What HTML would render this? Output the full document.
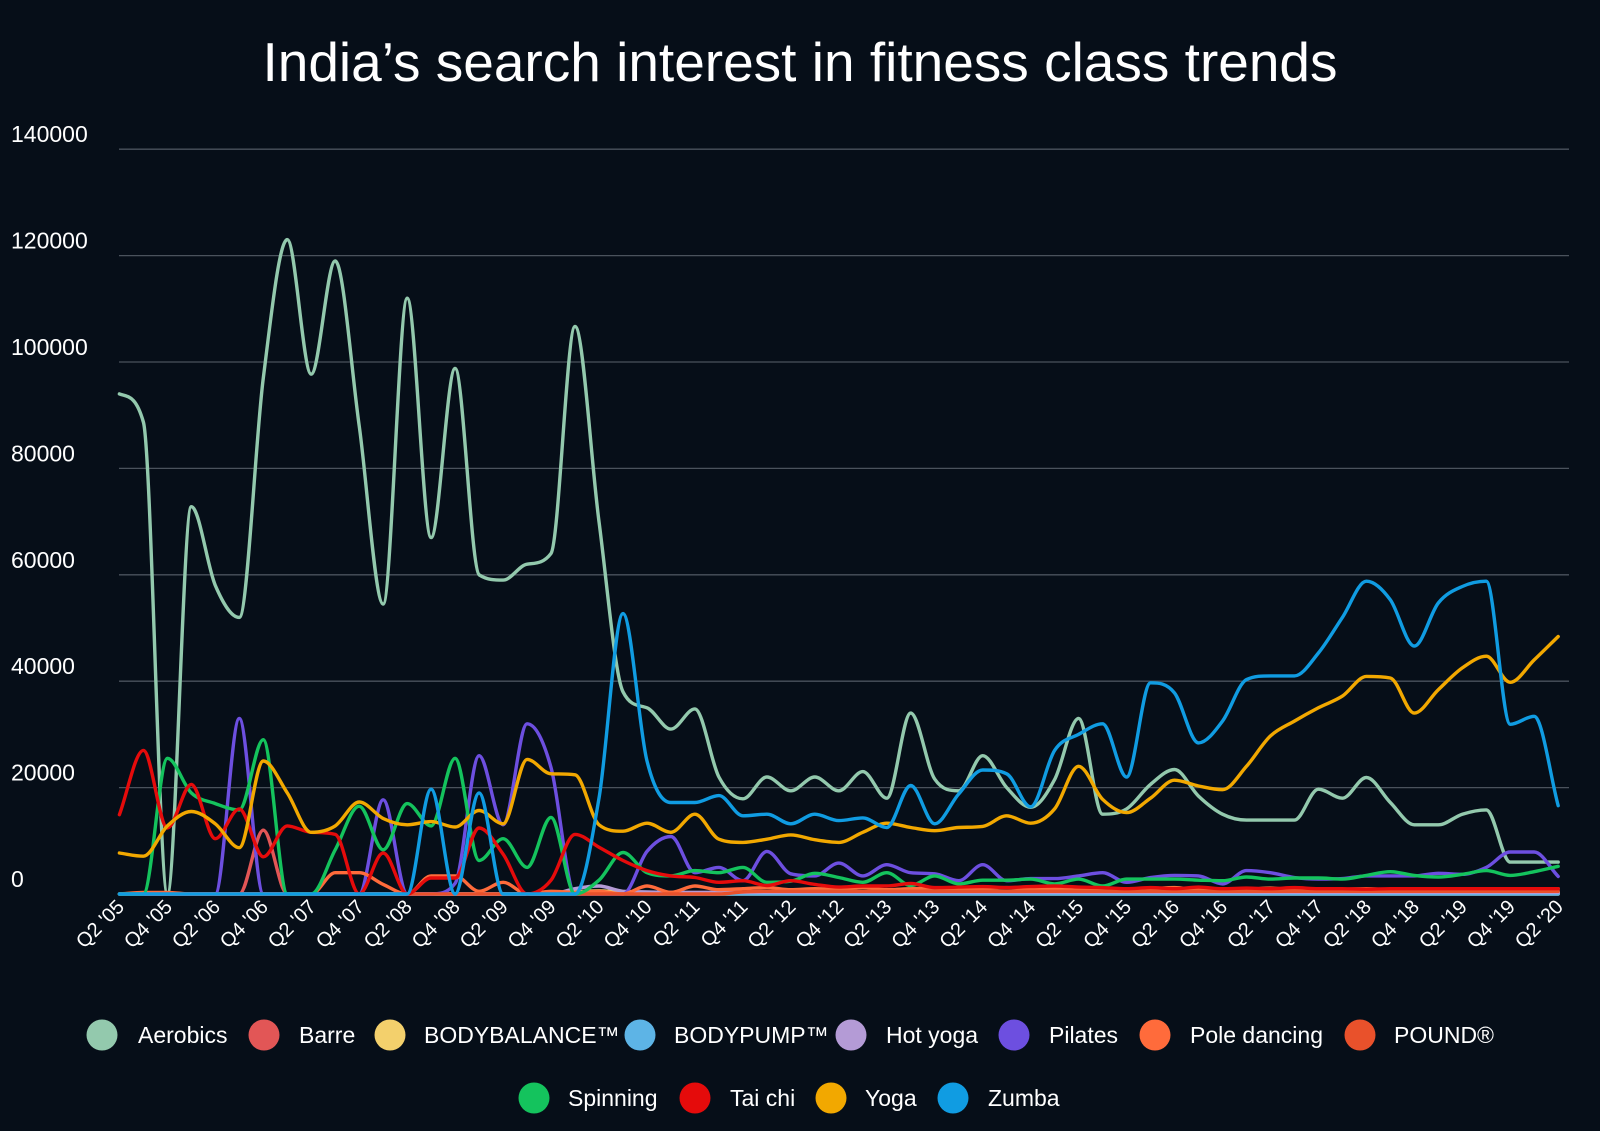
<!DOCTYPE html>
<html><head><meta charset="utf-8"><title>India's search interest in fitness class trends</title>
<style>
html,body{margin:0;padding:0;background:#060e18;}
svg{display:block;font-family:"Liberation Sans",Arial,sans-serif;}
</style></head>
<body>
<svg id="chart" width="1600" height="1131" viewBox="0 0 1600 1131" xmlns="http://www.w3.org/2000/svg">
<rect width="1600" height="1131" fill="#060e18"/>
<text x="800" y="81" text-anchor="middle" fill="#ffffff" font-size="55">India’s search interest in fitness class trends</text>
<defs><clipPath id="plotclip"><rect x="100" y="100" width="1480" height="796"/></clipPath></defs>
<g id="grid"></g>
<g id="yaxis"></g>
<g id="xaxis"></g>
<g id="series" clip-path="url(#plotclip)"></g>
<g id="legend"></g>
</svg>
<script>
const yTicks = [0,20000,40000,60000,80000,100000,120000,140000];
const xTickLabels = ["Q2 '05","Q4 '05","Q2 '06","Q4 '06","Q2 '07","Q4 '07","Q2 '08","Q4 '08","Q2 '09","Q4 '09","Q2 '10","Q4 '10","Q2 '11","Q4 '11","Q2 '12","Q4 '12","Q2 '13","Q4 '13","Q2 '14","Q4 '14","Q2 '15","Q4 '15","Q2 '16","Q4 '16","Q2 '17","Q4 '17","Q2 '18","Q4 '18","Q2 '19","Q4 '19","Q2 '20"];
const seriesNames = ["Aerobics","Barre","BODYBALANCE™","BODYPUMP™","Hot yoga","Pilates","Pole dancing","POUND®","Spinning","Tai chi","Yoga","Zumba"];
const seriesColors = ["#93c9ad","#e25656","#f3d06c","#5db4e6","#b49bd6","#6d4fe0","#ff6b3b","#e9512b","#14c35d","#e50b0b","#f2a800","#109ce2"];
// values in thousands, quarterly from Q2 '05 to Q2 '20
const aerobics = [94,88.7,0,72.8,58,52,97,123,97.7,119,88,54.5,112,67,98.8,60,59,62,64,106.7,70,38,35,31,34.8,22,17.9,22,19.4,22,19.4,23,18,34,21.6,19.4,26,20,16.3,21.5,33,15,16,20.6,23.4,18.4,15,13.9,13.9,13.9,19.7,18,21.9,17.2,13,13,15,15.8,6,6,6];
const barre = [0,0,0,0,0,0,12,0,0,0,0,0,0,0,0,0,0,0,0,0,0.3,0.3,0.3,0.3,0.3,0.3,0.3,0.3,0.3,0.3,0.3,0.3,0.3,0.3,0.3,0.3,0.3,0.3,0.3,0.3,0.3,0.3,0.3,0.3,0.3,0.3,0.3,0.3,0.3,0.3,0.3,0.3,0.3,0.3,0.3,0.3,0.3,0.3,0.3,0.3,0.3];
const bodybalance = [0,0,0,0,0,0,0,0,0,0,0,0,0,0,0,0,0,0,0,0.4,0.6,0.3,0,0,0,0,0,0,0,0,0,0,0,0,0,0,0,0,0,0,0,0,0,0,0,0,0,0,0,0,0,0,0,0,0,0,0,0,0,0,0];
const bodypump = [0,0,0,0,0,0,0,0,0,0,0,0,0,0,0,0,0,0,0,0,0,0,0,0,0,0,0,0,0,0,0,0,0,0,0,0,0,0,0,0,0,0,0,0,0,0,0,0,0,0,0,0,0,0,0,0,0,0,0,0,0];
const hotyoga = [0,0,0,0,0,0,0,0,0,0,0,0,0,0,0,0,0,0,0,1,1.5,0.5,0.4,0.3,0.3,0.3,0.3,0.3,0.3,0.3,0.3,0.3,0.3,0.3,0.3,0.3,0.3,0.3,0.3,0.3,0.3,0.3,0.3,0.3,0.3,0.3,0.3,0.3,0.3,0.3,0.3,0.3,0.3,0.3,0.3,0.3,0.3,0.3,0.3,0.3,0.3];
const pilates = [0,0,0,0,0,33,0,0,0,0,0,17.7,0,0,2,26,13,32,23.8,0,0,0,8,10.8,4,5,2.5,8,3.8,3.4,5.8,3.4,5.5,4,3.8,2.5,5.5,2.5,2.9,2.9,3.4,4,2.2,3.1,3.5,3.4,1.9,4.4,4,3.1,2.8,2.9,3.4,3.4,3.4,3.9,3.7,5,7.9,7.9,3.3];
const poledancing = [0,0.3,0.3,0,0,0,0,0,0,4,4,1.8,0,3.4,3.4,0.5,2.2,0,0.5,0.3,0.5,0,1.5,0.3,1.5,0.8,1,1.2,0.8,1,0.9,1.2,0.8,1,1.1,0.8,1,1.2,0.9,1,0.8,1.1,0.9,1,1.2,0.8,1,0.9,1.1,0.8,1,0.9,1,0.8,1,0.9,1,0.8,1,0.9,1];
const pound = [0,0,0,0,0,0,0,0,0,0,0,0,0,0,0,0,0,0,0,0,0,0,0,0,0,0,0.4,0.5,0.5,0.5,0.5,0.5,0.5,0.5,0.5,0.5,0.5,0.5,0.5,0.5,0.5,0.5,0.5,0.5,0.5,0.5,0.5,0.5,0.5,0.5,0.5,0.5,0.5,0.5,0.5,0.5,0.5,0.5,0.5,0.5,0.5];
const spinning = [0,0,25.5,19,17,15.8,29,0,0,8.3,16.5,8.3,17,12.8,25.5,6.3,10.4,5,14.4,0,2.6,7.8,4,3.4,4.4,4,5,2.2,2.4,3.9,3.1,2.2,4,1.6,3.4,1.9,2.6,2.6,2.8,1.9,2.8,1.5,2.8,2.8,2.8,2.6,2.5,3.2,2.8,3,3,2.8,3.5,4.2,3.5,3.2,3.7,4.4,3.5,4.2,5.2];
const taichi = [14.9,27,12.4,20.6,10.4,16,7,12.8,11.6,11.2,0,7.7,0,3,3,12.4,7.5,0,2.6,11.2,8.8,6.3,4.4,3.4,3.1,2.2,2.5,1.6,2.5,1.8,1.3,1.5,1.5,2,1.2,1.3,1.4,1.2,1.4,1.5,1.3,1.2,1,1.2,1,1.3,1,1.1,1,1.2,1,1,0.9,1,1,1,1,1,1,1,1];
const yoga = [7.7,7.1,12.8,15.5,13.2,8.7,25,19,11.6,12.8,17.3,14.2,13,13.6,12.6,15.7,13.2,25.3,22.6,22.4,13,11.8,13.3,11.6,15,10.3,9.7,10.3,11.1,10.2,9.7,11.6,13.3,12.5,11.9,12.5,12.7,14.7,13.3,16,24,17.8,15.3,18,21.4,20.3,19.6,24,29.7,32.5,35,37.2,40.9,40.6,34,38.4,42.5,44.7,39.8,44,48.4];
const zumba = [0,0,0,0,0,0,0,0,0,0,0,0,0,19.7,0,19,0,0,0,0,18,52.7,25,17.2,17.2,18.5,14.7,15,13.2,15,13.8,14.3,12.5,20.4,13.2,18.8,23.3,22.6,16.4,27,30,32,22,39.7,37.8,28.4,32.5,40.3,41,41,45.3,52,58.8,55.3,46.6,54.7,57.8,58.8,31.9,33.4,16.6];
const seriesData = [aerobics,barre,bodybalance,bodypump,hotyoga,pilates,poledancing,pound,spinning,taichi,yoga,zumba];

const NS = "http://www.w3.org/2000/svg";
const X0 = 119.4, STEP = 23.98, Y0 = 894, PX_PER_UNIT = 106.4/20000;
function xScale(i){ return X0 + i*STEP; }
function yScale(v){ return Y0 - v*PX_PER_UNIT; }
function mk(tag, attrs, parent){ const e=document.createElementNS(NS,tag); for(const k in attrs) e.setAttribute(k,attrs[k]); parent.appendChild(e); return e; }

const grid = document.getElementById('grid');
const yaxis = document.getElementById('yaxis');
yTicks.forEach(t=>{
  const y = yScale(t);
  if(t>0){
    const l = mk('line',{x1:119,x2:1569,y1:y,y2:y,stroke:'#4a525c','stroke-width':1.3},grid);
    
    
  }
  const tx = mk('text',{x:11,y:y-7,fill:'#ffffff','font-size':23},yaxis);
  tx.textContent = String(t);
  
  
});

const xaxis = document.getElementById('xaxis');
xTickLabels.forEach((lab,k)=>{
  const x = xScale(k*2)+6, y = Y0+14;
  const tx = mk('text',{x:x,y:y,fill:'#ffffff','font-size':20,'text-anchor':'end',transform:`rotate(-45 ${x} ${y})`},xaxis);
  tx.textContent = lab;
  
  
});

// monotone cubic interpolation (Fritsch-Carlson)
function pathFor(vals){
  const xs = vals.map((v,i)=>xScale(i)), ys = vals.map(v=>yScale(v*1000));
  const n = xs.length, h = STEP;
  const d = [], m = new Array(n);
  for(let i=0;i<n-1;i++) d.push((ys[i+1]-ys[i])/h);
  m[0]=d[0]; m[n-1]=d[n-2];
  for(let i=1;i<n-1;i++){
    if(d[i-1]*d[i]<=0) m[i]=0;
    else m[i]=(d[i-1]+d[i])/2;
  }
  for(let i=0;i<n-1;i++){
    if(d[i]===0){ m[i]=0; m[i+1]=0; continue; }
    const a=m[i]/d[i], b=m[i+1]/d[i], s=a*a+b*b;
    if(s>9){ const t=3/Math.sqrt(s); m[i]=t*a*d[i]; m[i+1]=t*b*d[i]; }
  }
  let p = `M${xs[0].toFixed(1)},${ys[0].toFixed(1)}`;
  for(let i=0;i<n-1;i++){
    p += ` C${(xs[i]+h/3).toFixed(1)},${(ys[i]+m[i]*h/3).toFixed(1)} ${(xs[i+1]-h/3).toFixed(1)},${(ys[i+1]-m[i+1]*h/3).toFixed(1)} ${xs[i+1].toFixed(1)},${ys[i+1].toFixed(1)}`;
  }
  return p;
}
const sg = document.getElementById('series');
seriesData.forEach((vals,si)=>{
  const p = mk('path',{d:pathFor(vals),fill:'none',stroke:seriesColors[si],'stroke-width':3.4,'stroke-linejoin':'round','stroke-linecap':'round'},sg);
  
  
});

const legendPos = [[102,138,1035],[264,299,1035],[390,424,1035],[640,674,1035],[851,886,1035],[1014,1049,1035],[1155,1190,1035],[1360,1394,1035],[534,568,1098],[695,730,1098],[831,865,1098],[953,988,1098]];
const lg = document.getElementById('legend');
seriesNames.forEach((n,i)=>{
  const g = mk('g',{},lg);
  
  
  const [cx,tx,cy] = legendPos[i];
  const c = mk('circle',{cx:cx,cy:cy,r:15.5,fill:seriesColors[i]},g);
  
  
  const t = mk('text',{x:tx,y:cy+8,fill:'#ffffff','font-size':23},g);
  t.textContent = n;
  
  
});
</script>
</body></html>
